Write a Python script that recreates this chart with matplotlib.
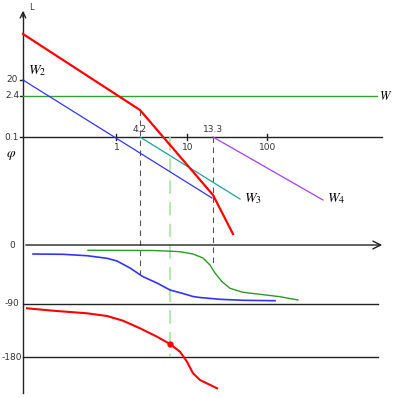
import matplotlib.pyplot as plt

plt.rcParams['mathtext.fontset'] = 'stix'

# sketch coordinates (x = position along frequency axis, y = drawing height, top = 0)
# magnitude asymptotes
L_red_x = [23, 140, 213, 233]
L_red_y = [34, 110, 195, 234]
W2_x = [23, 212]
W2_y = [80, 198]
W3_x = [140, 240]
W3_y = [137, 199]
W4_x = [213, 323]
W4_y = [137, 200]
W_level = 96

# phase curves
ph_blue_x = [33, 63, 87, 107, 117, 130, 143, 157, 170, 183, 193, 200, 220, 243, 275]
ph_blue_y = [254, 254.3, 255.7, 258.3, 261, 268, 276.7, 283, 290, 293.5, 296.5, 297.5, 299.3, 300.3, 300.7]
ph_green_x = [88, 153, 170, 180, 193, 203, 210, 215, 222, 230, 243, 260, 280, 298]
ph_green_y = [250.3, 250.5, 251.2, 251.7, 254, 258, 265, 273, 281.7, 288.3, 292.3, 294.3, 296.7, 300]
ph_red_x = [27, 53, 87, 107, 123, 140, 157, 170, 180, 187, 193, 200, 217]
ph_red_y = [308.3, 310.7, 313.3, 316, 320.7, 328.3, 336.7, 344, 351.7, 361.7, 373.3, 380, 388.3]
cross_pt = (170, 344)

# axis levels and tick marks
y_L0 = 137
y_phi0 = 245
y_m90 = 304
y_m180 = 357
freq_ticks = [116, 187, 267]
freq_labels = ['1', '10', '100']
corner_x = [140, 213]
corner_labels = ['4.2', '13.3']
L_ticks = [80, 96, 137]
L_labels = ['20', '2.4', '0.1']
phi_ticks = [y_phi0, y_m90, y_m180]
phi_labels = ['0', '-90', '-180']

fig = plt.figure(figsize=(3.93, 3.98), dpi=100)
ax = fig.add_axes([0, 0, 1, 1])
ax.set_xlim(0, 393)
ax.set_ylim(398, 0)
ax.axis('off')

k = '#222222'
# vertical axis with arrow
ax.plot([23, 23], [393, 12], color=k, lw=1)
ax.annotate('', xy=(23, 8), xytext=(23, 20),
            arrowprops=dict(arrowstyle='->', color=k, lw=1))
ax.text(29, 8, 'L', fontsize=6, color='#333333', ha='left', va='center')
ax.text(11, 155, r'$\varphi$', fontsize=10, ha='center', va='center')

# magnitude axis
ax.plot([23, 382], [y_L0, y_L0], color=k, lw=1)
for xt, lb in zip(freq_ticks, freq_labels):
    ax.plot([xt, xt], [y_L0 - 3, y_L0 + 3], color=k, lw=1)
    ax.text(xt + 1, y_L0 + 11, lb, fontsize=6.5, color='#333333', ha='center', va='center')
for xt, lb in zip(corner_x, corner_labels):
    ax.text(xt, y_L0 - 8, lb, fontsize=6.5, color='#333333', ha='center', va='center')
for yt, lb in zip(L_ticks, L_labels):
    ax.plot([20, 23], [yt, yt], color=k, lw=1)
    ax.text(12, yt, lb, fontsize=6.5, color='#333333', ha='center', va='center')

# phase axes
ax.annotate('', xy=(385, y_phi0), xytext=(23, y_phi0),
            arrowprops=dict(arrowstyle='->', color=k, lw=1, mutation_scale=14))
ax.plot([23, 378], [y_m90, y_m90], color=k, lw=1)
ax.plot([23, 378], [y_m180, y_m180], color=k, lw=1)
for yt, lb in zip(phi_ticks, phi_labels):
    ax.text(12, yt, lb, fontsize=6.5, color='#333333', ha='center', va='center')

# dashed guides
ax.plot([140, 140], [110, 275], color='#555555', lw=0.8, ls=(0, (5, 4)))
ax.plot([213, 213], [137, 267], color='#555555', lw=0.8, ls=(0, (5, 4)))
ax.plot([170, 170], [137, 357], color='#99ee99', lw=1.2, ls=(0, (8, 5)))

# magnitude lines
ax.plot([23, 377], [W_level, W_level], color='#33a033', lw=1)
ax.plot(W2_x, W2_y, color='#3333ff', lw=0.9)
ax.plot(W3_x, W3_y, color='#20a0a0', lw=0.9)
ax.plot(W4_x, W4_y, color='#a040ff', lw=0.9)
ax.plot(L_red_x, L_red_y, color='#ff0000', lw=1.6)

ax.text(379, W_level, r'$W$', fontsize=9, ha='left', va='center')
ax.text(28, 71, r'$W_2$', fontsize=10, ha='left', va='center')
ax.text(244, 199, r'$W_3$', fontsize=10, ha='left', va='center')
ax.text(327, 199, r'$W_4$', fontsize=10, ha='left', va='center')

# phase curves
ax.plot(ph_blue_x, ph_blue_y, color='#3333ff', lw=1.2)
ax.plot(ph_green_x, ph_green_y, color='#2a9a2a', lw=1)
ax.plot(ph_red_x, ph_red_y, color='#ff0000', lw=1.5)
ax.plot(*cross_pt, 'o', color='#ff0000', ms=3.5)

fig.savefig('out.png', dpi=100)
